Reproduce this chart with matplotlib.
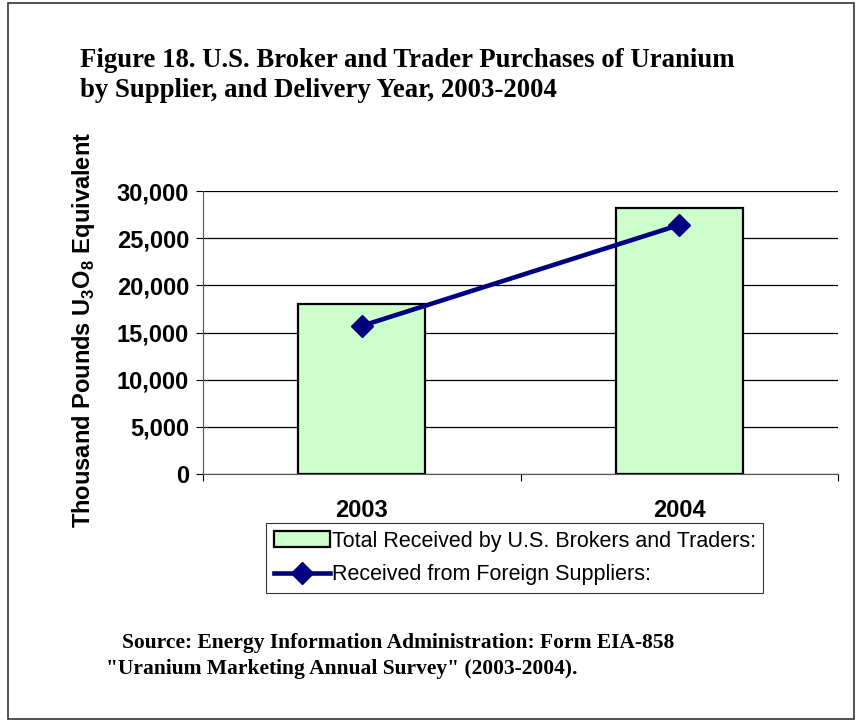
import matplotlib.pyplot as plt
from matplotlib.patches import Rectangle
import numpy as np

plt.rcParams['mathtext.fontset'] = 'custom'
plt.rcParams['mathtext.rm'] = 'Liberation Sans'
plt.rcParams['mathtext.bf'] = 'Liberation Sans:bold'

years = ['2003', '2004']
total_received = [18000, 28200]
foreign_received = [15700, 26400]
y_ticks = [0, 5000, 10000, 15000, 20000, 25000, 30000]

W, H = 857, 721
fig = plt.figure(figsize=(W / 100, H / 100), dpi=100)

# border round the whole picture
fig.patches.append(Rectangle((8 / W, 2 / H), 846 / W, 716 / H, transform=fig.transFigure,
                             fill=False, edgecolor='#333333', lw=1.2))

ax = fig.add_axes([203 / W, 1 - 474 / H, 635 / W, 283 / H])
x = np.arange(len(years))
bars = ax.bar(x, total_received, width=0.4, color='#CCFFCC', edgecolor='black', lw=1.6,
              label='Total Received by U.S. Brokers and Traders:', zorder=2)
line, = ax.plot(x, foreign_received, color='#000080', lw=3.3, marker='D', ms=11.5,
                label='Received from Foreign Suppliers:', zorder=3)

ax.set_xlim(-0.5, 1.5)
ax.set_ylim(0, 30000)
ax.set_yticks(y_ticks)
ax.set_yticklabels([f'{v:,}' for v in y_ticks], fontfamily='Liberation Sans',
                   fontweight='bold', fontsize=17)
ax.set_xticks([-0.5, 0.5, 1.5])
ax.set_xticklabels([])
ax.set_xticks(x, minor=True)
ax.set_xticklabels(years, minor=True, fontfamily='Liberation Sans',
                   fontweight='bold', fontsize=17)
ax.tick_params(axis='x', which='minor', length=0, pad=18)
ax.tick_params(axis='x', which='major', length=5, direction='out')
ax.tick_params(axis='y', length=5, direction='out', pad=5)
ax.grid(axis='y', color='black', lw=0.9, zorder=0)
ax.set_axisbelow(True)
for s in ['top', 'right']:
    ax.spines[s].set_visible(False)
ax.spines['left'].set_color('#555555')
ax.spines['bottom'].set_color('#555555')

ax.set_ylabel('Thousand Pounds U$_{\\mathbf{3}}$O$_{\\mathbf{8}}$ Equivalent',
              fontfamily='Liberation Sans', fontweight='bold', fontsize=17)
ax.yaxis.set_label_coords((97 - 203) / 635, 0.51)

leg = ax.legend([bars, line], [bars.get_label(), line.get_label()],
                loc='upper left', bbox_to_anchor=(266 / W, 1 - 523 / H),
                bbox_transform=fig.transFigure, frameon=True, fancybox=False,
                edgecolor='black', prop={'family': 'Liberation Sans', 'size': 15.5},
                borderpad=0.35, labelspacing=0.6, handlelength=2.6, handletextpad=0.1,
                borderaxespad=0)
leg.get_frame().set_linewidth(0.8)

fig.text(80 / W, 1 - 67 / H, 'Figure 18. U.S. Broker and Trader Purchases of Uranium',
         fontfamily='Liberation Serif', fontweight='bold', fontsize=19.3, va='baseline')
fig.text(80 / W, 1 - 97 / H, 'by Supplier, and Delivery Year, 2003-2004',
         fontfamily='Liberation Serif', fontweight='bold', fontsize=19.3, va='baseline')

fig.text(122 / W, 1 - 648 / H, 'Source: Energy Information Administration: Form EIA-858',
         fontfamily='Liberation Serif', fontweight='bold', fontsize=15.5, va='baseline')
fig.text(106 / W, 1 - 674 / H, '"Uranium Marketing Annual Survey" (2003-2004).',
         fontfamily='Liberation Serif', fontweight='bold', fontsize=15.5, va='baseline')

fig.savefig('out.png', dpi=100)
